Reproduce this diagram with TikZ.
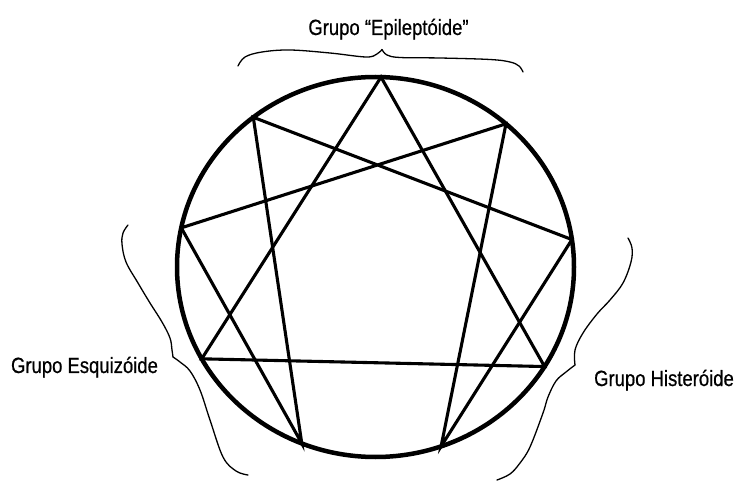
\documentclass[tikz,border=0pt]{standalone}
\usepackage{fontspec}
\newfontfamily\lbl[FakeStretch=0.84,FakeBold=0.6]{Liberation Sans}
\begin{document}
\begin{tikzpicture}[x=1pt,y=-1pt,
  ring/.style={line width=4.5pt},
  figline/.style={line width=3.1pt,line join=miter,line cap=round},
  brace/.style={line width=1.3pt,line cap=round},
  label/.style={font=\lbl\fontsize{22}{26}\selectfont,anchor=base,inner sep=0pt}]
\useasboundingbox (0,0) rectangle (737,481);
\fill[white] (0,0) rectangle (737,481);
\coordinate (c) at (375.5,267);
\foreach \n/\a in {p9/88.4,p1/48.9,p2/8.3,p3/-31.6,p4/-70.7,p5/-111.8,p6/-151.1,p7/168.1,p8/128}
  \coordinate (\n) at ({375.5+198.5*cos(\a)},{267-190*sin(\a)});
% circle
\draw[ring] (c) ellipse [x radius=198.5, y radius=190];
% triangle 9-3-6
\draw[figline] (p9) -- (p3) -- (p6) -- cycle;
% hexad 1-4-2-8-5-7
\draw[figline] (p1) -- (p4) -- (p2) -- (p8) -- (p5) -- (p7) -- cycle;
% labels
\node[label] (epi) at (388.5,35) {Grupo “Epileptóide”};
\node[label] (esq) at (84.5,373) {Grupo Esquizóide};
\node[label] (his) at (664,386) {Grupo Histeróide};
% top brace
\draw[brace] plot[smooth,tension=0.6] coordinates {(238,66) (245,57) (262,52) (290,50) (330,53) (366,57) (377,54) (382,49.5)};
\draw[brace] plot[smooth,tension=0.6] coordinates {(382,49.5) (387,55) (400,57.5) (440,58) (490,59.5) (510,62) (519,66) (523,72)};
% left brace
\draw[brace] plot[smooth,tension=0.6] coordinates {(128,225) (123,233) (122,244) (126,262) (138,283) (150,303) (162,322) (170,338) (172,350) (173,357)};
\draw[brace] plot[smooth,tension=0.6] coordinates {(173,357) (180,362) (190,371) (200,390) (210,420) (223,457) (236,471) (248,475)};
% right brace
\draw[brace] plot[smooth,tension=0.6] coordinates {(628,238) (632,248) (631,262) (623,283) (610,300) (597,314) (583,333) (575,350) (575,365)};
\draw[brace] plot[smooth,tension=0.6] coordinates {(575,365) (566,372) (556,381) (548,397) (543,413) (530,447) (520,463) (510,474) (497,480)};
\end{tikzpicture}
\end{document}
